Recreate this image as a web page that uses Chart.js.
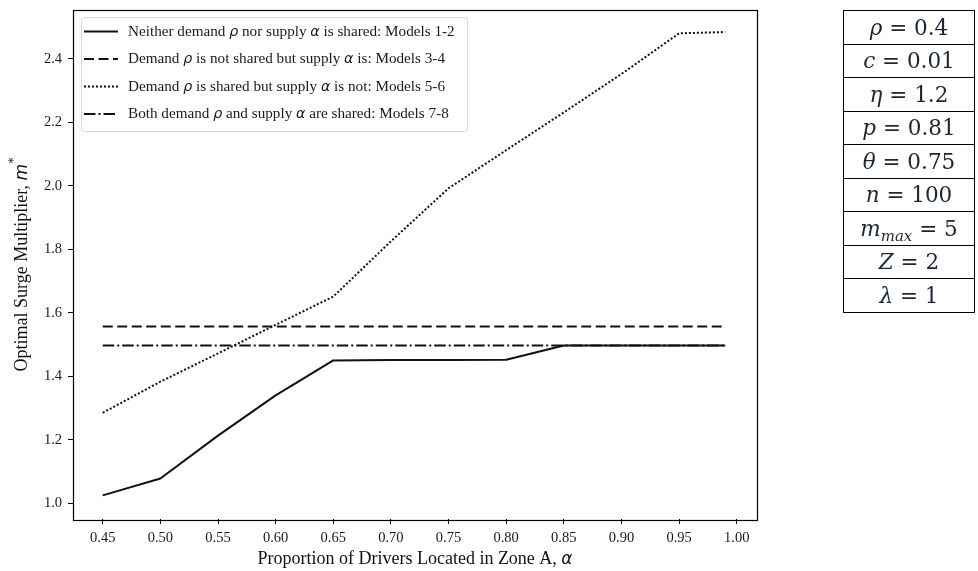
<!DOCTYPE html>
<html>
<head>
<meta charset="utf-8">
<script src="https://cdn.jsdelivr.net/npm/chart.js@4"></script>
<style>
  html, body { margin: 0; padding: 0; background: #fff; }
  #wrap { position: relative; width: 978px; height: 571px; }
  #params {
    position: absolute; left: 843px; top: 10px; width: 132px;
    border-collapse: collapse; font-family: "DejaVu Serif", serif; font-size: 21.5px; color: #1b2536;
  }
  #params td { border: 1.5px solid #000; height: 32.5px; padding: 0; text-align: center; line-height: 1; }
  #params i { font-style: italic; }
  #params sub { font-size: 15px; font-style: italic; vertical-align: -5px; line-height: 0; }
</style>
</head>
<body>
<div id="wrap">
  <canvas id="chart" width="978" height="571"></canvas>
  <table id="params"></table>
</div>
<script>
// ── data ────────────────────────────────────────────────────────────────────
const alphaValues = [0.45, 0.50, 0.55, 0.60, 0.65, 0.70, 0.75, 0.80, 0.85, 0.90, 0.95, 0.99];
const neitherShared = [1.025, 1.078, 1.213, 1.340, 1.450, 1.451, 1.451, 1.452, 1.497, 1.497, 1.497, 1.497];
const supplyShared = [1.557, 1.557, 1.557, 1.557, 1.557, 1.557, 1.557, 1.557, 1.557, 1.557, 1.557, 1.557];
const demandShared = [1.285, 1.383, 1.472, 1.562, 1.651, 1.825, 1.992, 2.112, 2.231, 2.352, 2.480, 2.484];
const bothShared = [1.497, 1.497, 1.497, 1.497, 1.497, 1.497, 1.497, 1.497, 1.497, 1.497, 1.497, 1.497];

const xTickValues = [0.45, 0.50, 0.55, 0.60, 0.65, 0.70, 0.75, 0.80, 0.85, 0.90, 0.95, 1.00];
const yTickValues = [1.0, 1.2, 1.4, 1.6, 1.8, 2.0, 2.2, 2.4];

// legend text, split in runs so the greek letters can be italic
const legendLabels = [
  [['Neither demand ', 0], ['ρ', 1], [' nor supply ', 0], ['α', 1], [' is shared: Models 1-2', 0]],
  [['Demand ', 0], ['ρ', 1], [' is not shared but supply ', 0], ['α', 1], [' is: Models 3-4', 0]],
  [['Demand ', 0], ['ρ', 1], [' is shared but supply ', 0], ['α', 1], [' is not: Models 5-6', 0]],
  [['Both demand ', 0], ['ρ', 1], [' and supply ', 0], ['α', 1], [' are shared: Models 7-8', 0]]
];

// parameter table on the right
const paramRows = [
  '<i>ρ</i> = 0.4', '<i>c</i> = 0.01', '<i>η</i> = 1.2', '<i>p</i> = 0.81', '<i>θ</i> = 0.75',
  '<i>n</i> = 100', '<i>m</i><sub>max</sub> = 5', '<i>Z</i> = 2', '<i>λ</i> = 1'
];
document.getElementById('params').innerHTML = paramRows.map(r => '<tr><td>' + r + '</td></tr>').join('');

const SERIF = '"Liberation Serif", "Times New Roman", serif';
const MATH = '"DejaVu Sans", sans-serif';

function pts(ys) { return alphaValues.map((a, i) => ({ x: a, y: ys[i] })); }

function setRunFont(ctx, it, size) {
  ctx.font = it ? 'italic ' + (size - 1) + 'px ' + MATH : size + 'px ' + SERIF;
}
function drawRuns(ctx, runs, x, y, size) {
  let cx = x;
  runs.forEach(([t, it]) => {
    setRunFont(ctx, it, size);
    ctx.fillText(t, cx, y);
    cx += ctx.measureText(t).width;
  });
  return cx - x;
}
function runsWidth(ctx, runs, size) {
  let w = 0;
  runs.forEach(([t, it]) => {
    setRunFont(ctx, it, size);
    w += ctx.measureText(t).width;
  });
  return w;
}

const decorPlugin = {
  id: 'decor',
  afterDatasetsDraw(chart) {
    const ctx = chart.ctx, a = chart.chartArea;
    ctx.save();
    // frame
    ctx.strokeStyle = '#000';
    ctx.lineWidth = 1.2;
    ctx.strokeRect(Math.round(a.left) + 0.5, Math.round(a.top) + 0.5, Math.round(a.right - a.left), Math.round(a.bottom - a.top));

    // legend
    const lx = 81, ly = 17, lw = 386, lh = 114;
    ctx.fillStyle = 'rgba(255,255,255,0.85)';
    ctx.strokeStyle = '#d6d6d6';
    ctx.lineWidth = 1;
    ctx.beginPath();
    ctx.roundRect(lx + 0.5, ly + 0.5, lw, lh, 3);
    ctx.fill();
    ctx.stroke();
    ctx.textBaseline = 'middle';
    ctx.fillStyle = '#1a1a1a';
    chart.data.datasets.forEach((ds, i) => {
      const y = 31.5 + i * 27.5;
      ctx.strokeStyle = ds.borderColor;
      ctx.lineWidth = ds.borderWidth;
      ctx.setLineDash(ds.borderDash || []);
      ctx.beginPath();
      ctx.moveTo(84, y);
      ctx.lineTo(118, y);
      ctx.stroke();
      ctx.setLineDash([]);
      drawRuns(ctx, legendLabels[i], 128, y + 0.5, 15.2);
    });

    // axis titles
    ctx.fillStyle = '#111';
    ctx.textBaseline = 'alphabetic';
    const xt = [['Proportion of Drivers Located in Zone A, ', 0], ['α', 1]];
    const xw = runsWidth(ctx, xt, 18);
    drawRuns(ctx, xt, (a.left + a.right) / 2 - xw / 2, 564, 18);

    const yt = [['Optimal Surge Multiplier, ', 0], ['m', 1]];
    const yw = runsWidth(ctx, yt, 18) + 7;
    ctx.translate(27, (a.top + a.bottom) / 2);
    ctx.rotate(-Math.PI / 2);
    const end = drawRuns(ctx, yt, -yw / 2, 0, 18);
    ctx.font = '12px ' + MATH;
    ctx.fillText('*', -yw / 2 + end + 0.5, -10);
    ctx.restore();
  }
};

const common = { borderColor: '#111', borderWidth: 2, pointRadius: 0, tension: 0, fill: false, borderJoinStyle: 'round' };

// fixed axis boxes so the plot area sits where the reference has it
function fixX(s) { s.height = 52; s.paddingLeft = 0; s.paddingRight = 0; }
function fixY(s) { s.width = 73; s.paddingTop = 0; s.paddingBottom = 0; }

new Chart(document.getElementById('chart'), {
  type: 'line',
  data: {
    datasets: [
      Object.assign({ label: 'Models 1-2', data: pts(neitherShared) }, common),
      Object.assign({ label: 'Models 3-4', data: pts(supplyShared), borderDash: [10, 4.5] }, common),
      Object.assign({ label: 'Models 5-6', data: pts(demandShared), borderDash: [2, 2], borderCapStyle: 'butt' }, common),
      Object.assign({ label: 'Models 7-8', data: pts(bothShared), borderDash: [11.5, 3, 2, 3] }, common)
    ]
  },
  options: {
    responsive: false,
    animation: false,
    devicePixelRatio: 1,
    layout: { padding: { top: 9.5, right: 221, left: 0, bottom: 0 } },
    plugins: { legend: { display: false }, tooltip: { enabled: false } },
    scales: {
      x: {
        type: 'linear', min: 0.4242, max: 1.0176,
        afterFit: fixX,
        afterBuildTicks: s => { s.ticks = xTickValues.map(v => ({ value: v })); },
        border: { display: false },
        grid: { drawOnChartArea: false, drawTicks: true, tickLength: 5, color: '#000', tickColor: '#000' },
        ticks: { color: '#1a1a1a', padding: 5, maxRotation: 0, autoSkip: false, font: { family: SERIF, size: 14.5 }, callback: v => v.toFixed(2) }
      },
      y: {
        type: 'linear', min: 0.9506, max: 2.555,
        afterFit: fixY,
        afterBuildTicks: s => { s.ticks = yTickValues.map(v => ({ value: v })); },
        border: { display: false },
        grid: { drawOnChartArea: false, drawTicks: true, tickLength: 5, color: '#000', tickColor: '#000' },
        ticks: { color: '#1a1a1a', padding: 6, autoSkip: false, font: { family: SERIF, size: 14.5 }, callback: v => v.toFixed(1) }
      }
    }
  },
  plugins: [decorPlugin]
});
</script>
</body>
</html>
